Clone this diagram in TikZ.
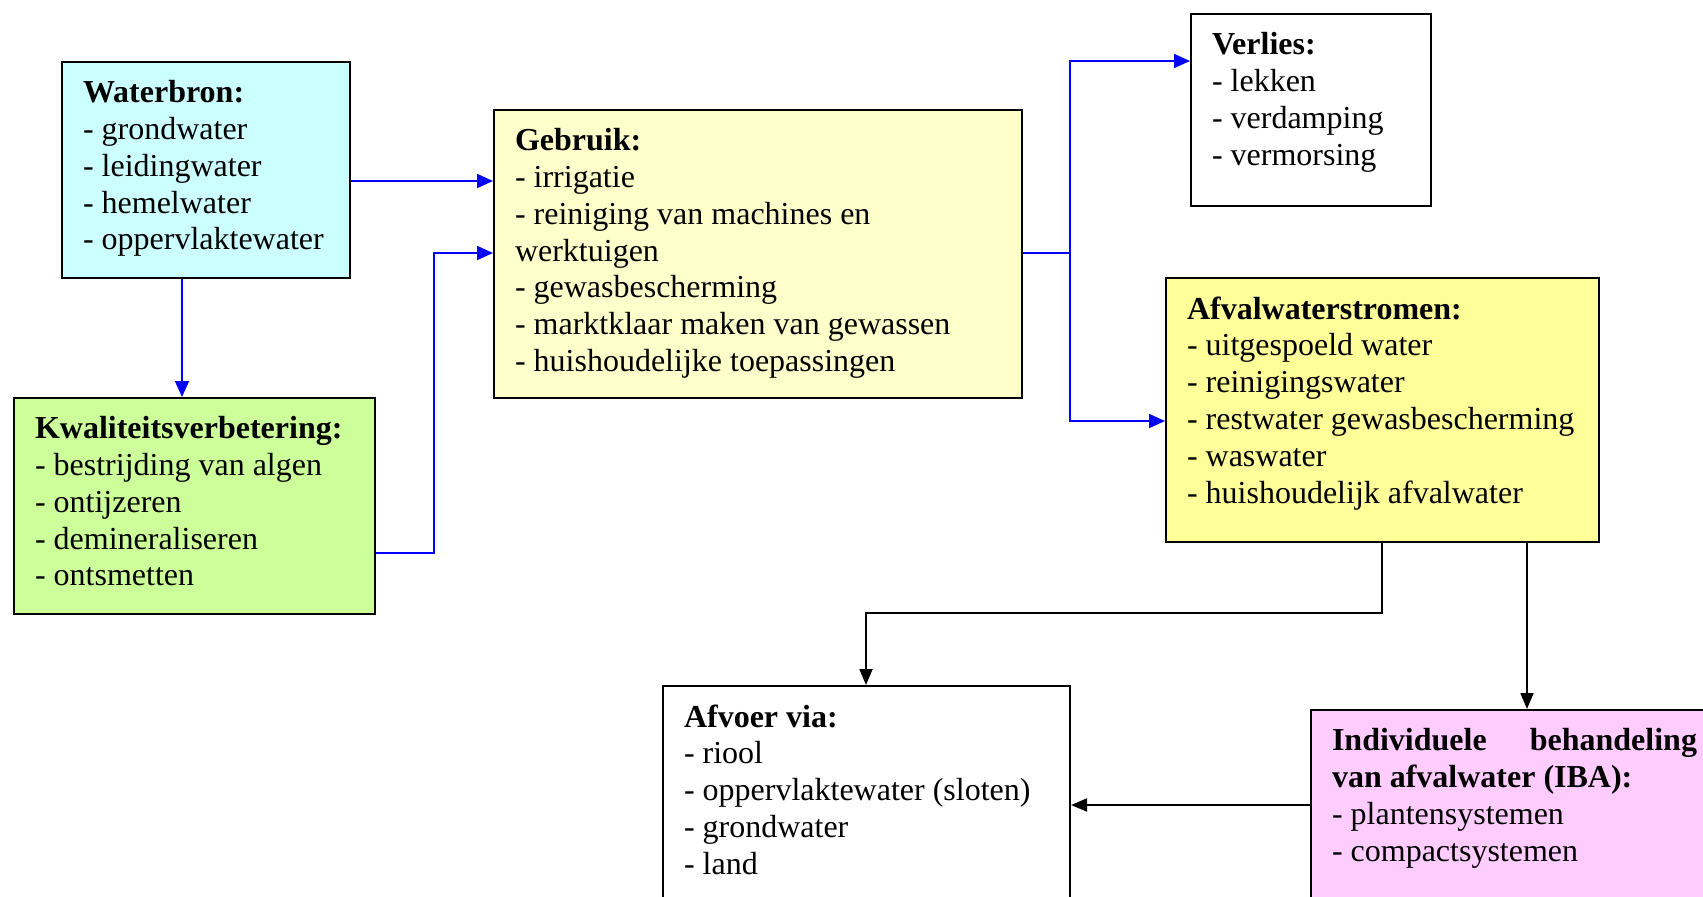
\documentclass[tikz,border=0pt]{standalone}
\usepackage{fontspec}
\setmainfont{Liberation Serif}
\usepackage{tikz}
\usetikzlibrary{positioning, arrows.meta, calc}

\definecolor{bronkleur}{HTML}{CCFFFF}
\definecolor{kwalkleur}{HTML}{CCFF99}
\definecolor{gebruikkleur}{HTML}{FFFFCC}
\definecolor{afvalkleur}{HTML}{FFFF99}
\definecolor{ibakleur}{HTML}{FFCCFF}

% tekstvak met vaste maat (breedte, hoogte in pt)
\newcommand{\vakje}[3]{\parbox[t][#2pt][t]{#1pt}{\raggedright #3}}

\begin{document}
\begin{tikzpicture}[x=1pt, y=-1pt,
    blok/.style={draw, line width=2pt, anchor=north west, inner xsep=21pt, inner ysep=18.5pt,
        font=\fontsize{32}{36.8}\selectfont},
    pijl/.style={draw=blue, line width=1.8pt, -{Triangle[length=16pt, width=14pt]}},
    lijn/.style={draw=blue, line width=1.8pt},
    zpijl/.style={draw=black, line width=1.8pt, -{Triangle[length=16pt, width=13pt]}}]
    \useasboundingbox (0,0) rectangle (1703,897);

    % Bron en behandeling
    \node[blok, fill=bronkleur] (bron) at (61,61)
        {\vakje{246}{179}{\textbf{Waterbron:}\\ - grondwater\\ - leidingwater\\ - hemelwater\\ - oppervlaktewater}};
    \node[blok, fill=kwalkleur] (kwal) at (13,397)
        {\vakje{319}{179}{\textbf{Kwaliteitsverbetering:}\\ - bestrijding van algen\\ - ontijzeren\\ - demineraliseren\\ - ontsmetten}};

    % Gebruik
    \node[blok, fill=gebruikkleur] (gebruik) at (493,109)
        {\vakje{486}{251}{\textbf{Gebruik:}\\ - irrigatie\\ - reiniging van machines en\\ werktuigen\\ - gewasbescherming\\ - marktklaar maken van gewassen\\ - huishoudelijke toepassingen}};

    % Verlies en afvalwater
    \node[blok, fill=white] (verlies) at (1190,13)
        {\vakje{198}{155}{\textbf{Verlies:}\\ - lekken\\ - verdamping\\ - vermorsing}};
    \node[blok, fill=afvalkleur] (afval) at (1165,277)
        {\vakje{391}{227}{\textbf{Afvalwaterstromen:}\\ - uitgespoeld water\\ - reinigingswater\\ - restwater gewasbescherming\\ - waswater\\ - huishoudelijk afvalwater}};

    % Afvoer en IBA
    \node[blok, fill=white] (afvoer) at (662,685)
        {\vakje{365}{223}{\textbf{Afvoer via:}\\ - riool\\ - oppervlaktewater (sloten)\\ - grondwater\\ - land}};
    \node[blok, fill=ibakleur] (iba) at (1310,709)
        {\vakje{365}{203}{\textbf{Individuele\hfill behandeling}\\ \textbf{van afvalwater (IBA):}\\ - plantensystemen\\ - compactsystemen}};

    % blauwe pijlen
    \draw[pijl] (bron.east |- 0,181) -- (gebruik.west |- 0,181);
    \draw[pijl] (bron.south -| 182,0) -- (kwal.north -| 182,0);
    \draw[pijl] (kwal.east |- 0,553) -- (434,553) |- (gebruik.west |- 0,253);
    \coordinate (splits) at (1070,253);
    \draw[lijn] (gebruik.east |- splits) -- (splits);
    \draw[pijl] (splits) |- (verlies.west |- 0,61);
    \draw[pijl] (splits) |- (afval.west |- 0,421);

    % zwarte pijlen
    \draw[zpijl] (afval.south -| 1382,0) |- (866,613) -- (afvoer.north -| 866,0);
    \draw[zpijl] (afval.south -| 1527,0) -- (iba.north -| 1527,0);
    \draw[zpijl] (iba.west |- 0,805) -- (afvoer.east |- 0,805);
\end{tikzpicture}
\end{document}
